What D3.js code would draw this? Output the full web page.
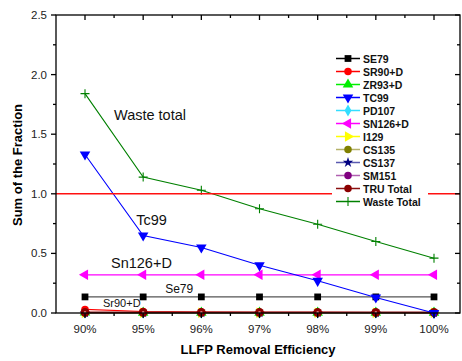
<!DOCTYPE html>
<html><head><meta charset="utf-8">
<script src="https://cdn.jsdelivr.net/npm/d3@7"></script>
<style>body{margin:0;background:#fff}svg{display:block}text{font-family:"Liberation Sans",Arial,sans-serif}</style>
</head><body><svg id="c" width="462" height="361"></svg>
<script>
const categories = ["90%","95%","96%","97%","98%","99%","100%"];
const se79  = [0.135,0.135,0.135,0.135,0.135,0.135,0.135];
const sr90  = [0.03,0.012,0.008,0.006,0.005,0.004,0.003];
const zr93  = [0.004,0.003,0.003,0.003,0.003,0.003,0.003];
const tc99  = [1.33,0.65,0.55,0.40,0.27,0.13,0.0];
const pd107 = [0.002,0.002,0.002,0.002,0.002,0.002,0.002];
const sn126 = [0.32,0.32,0.32,0.32,0.32,0.32,0.32];
const i129  = [0.003,0.002,0.002,0.002,0.002,0.002,0.002];
const cs135 = [0.003,0.003,0.003,0.003,0.003,0.003,0.003];
const cs137 = [0.001,0.001,0.001,0.001,0.001,0.001,0.001];
const sm151 = [0.002,0.002,0.002,0.002,0.002,0.002,0.002];
const truTotal = [0.005,0.005,0.005,0.005,0.005,0.005,0.005];
const wasteTotal = [1.84,1.14,1.03,0.875,0.745,0.60,0.46];
const limitValue = 1.0;
const yTicks = [0,0.5,1.0,1.5,2.0,2.5];
const yMinor = [0.25,0.75,1.25,1.75,2.25];
const legendNames = ["SE79","SR90+D","ZR93+D","TC99","PD107","SN126+D","I129","CS135","CS137","SM151","TRU Total","Waste Total"];
const annotations = [
  {t:"Waste total", c:"90%", dx:29, size:14.5},
  {t:"Tc99", c:"95%", dx:-7, size:14.5},
  {t:"Sn126+D", c:"90%", dx:26, size:14.5},
  {t:"Se79", c:"95%", dx:22, size:12},
  {t:"Sr90+D", c:"90%", dx:18, size:11}
];
const annY = [120, 225, 268, 293, 307];

const svg = d3.select("#c");
const L=56, R=460, T=15, B=313;
const x = d3.scalePoint().domain(categories).range([85,434]);
const y = d3.scaleLinear().domain([0,2.5]).range([B,T]);

const g = svg.append("g");
const line = d3.line().x((d,i)=>x(categories[i])).y(d=>y(d));
const tri = d3.symbol().type(d3.symbolTriangle).size(48)();
const sq = d3.symbol().type(d3.symbolSquare).size(46)();
const circ = d3.symbol().type(d3.symbolCircle).size(44)();
const bigCirc = d3.symbol().type(d3.symbolCircle).size(60)();
const diam = d3.symbol().type(d3.symbolDiamond).size(40)();
const star = d3.symbol().type(d3.symbolStar).size(34)();
const plus = "M-4.5,0H4.5M0,-4.5V4.5";

const series = [
  {name:"SE79", data:se79, color:"#000", line:"#555", lline:"#000", path:sq, rot:0},
  {name:"SR90+D", data:sr90, color:"#ff0000", line:"#ff0000", path:circ, rot:0},
  {name:"ZR93+D", data:zr93, color:"#00ee00", line:"#00ee00", path:tri, rot:0},
  {name:"TC99", data:tc99, color:"#0000ff", line:"#0000ff", path:tri, rot:180},
  {name:"PD107", data:pd107, color:"#33ddff", line:"#33ddff", path:diam, rot:0},
  {name:"SN126+D", data:sn126, color:"#ff00ff", line:"#ff00ff", path:tri, rot:-90},
  {name:"I129", data:i129, color:"#ffff00", line:"#ffff00", path:tri, rot:90},
  {name:"CS135", data:cs135, color:"#808000", line:"#b5b26a", path:circ, rot:0},
  {name:"CS137", data:cs137, color:"#000080", line:"#5a5ab0", path:star, rot:0},
  {name:"SM151", data:sm151, color:"#800080", line:"#b060b0", path:circ, rot:0},
  {name:"TRU Total", data:truTotal, color:"#8b0000", line:"#8b1010", path:circ, big:bigCirc, rot:0},
  {name:"Waste Total", data:wasteTotal, color:"#008000", line:"#008000", path:plus, rot:0, stroke:true}
];
const order = [8,4,6,2,7,9,1,10,0,5,3,11];
order.forEach(k=>{
  const s = series[k];
  g.append("path").attr("d",line(s.data)).attr("fill","none").attr("stroke",s.line).attr("stroke-width",s.name==="TRU Total"?1.8:1.1);
  s.data.forEach((v,i)=>{
    const m = g.append("path").attr("d",s.big||s.path)
      .attr("transform",`translate(${x(categories[i])},${y(v)}) rotate(${s.rot})`);
    if(s.stroke) m.attr("fill","none").attr("stroke",s.color).attr("stroke-width",1.1);
    else m.attr("fill",s.color);
    if(s.big) g.append("circle").attr("cx",x(categories[i])).attr("cy",y(v)).attr("r",1.3).attr("fill","#d08080");
  });
});
// red limit line
g.append("line").attr("x1",L).attr("x2",R).attr("y1",y(limitValue)).attr("y2",y(limitValue))
  .attr("stroke","#ff1010").attr("stroke-width",1.6);

// axes
const ax = svg.append("g").attr("stroke","#000").attr("stroke-width",1.3);
ax.append("rect").attr("x",L).attr("y",T).attr("width",R-L).attr("height",B-T).attr("fill","none");
const step = x.step();
const xMinor = categories.slice(0,-1).map(c=>x(c)+step/2);
categories.forEach(c=>{
  ax.append("line").attr("x1",x(c)).attr("x2",x(c)).attr("y1",B).attr("y2",B+5);
  ax.append("line").attr("x1",x(c)).attr("x2",x(c)).attr("y1",T).attr("y2",T+5);
});
xMinor.forEach(px=>{
  ax.append("line").attr("x1",px).attr("x2",px).attr("y1",B).attr("y2",B+3);
  ax.append("line").attr("x1",px).attr("x2",px).attr("y1",T).attr("y2",T+3);
});
yTicks.forEach(v=>{
  ax.append("line").attr("x1",L-5).attr("x2",L).attr("y1",y(v)).attr("y2",y(v));
  ax.append("line").attr("x1",R-5).attr("x2",R).attr("y1",y(v)).attr("y2",y(v));
});
yMinor.forEach(v=>{
  ax.append("line").attr("x1",L-3).attr("x2",L).attr("y1",y(v)).attr("y2",y(v));
  ax.append("line").attr("x1",R-3).attr("x2",R).attr("y1",y(v)).attr("y2",y(v));
});
const lab = svg.append("g").attr("fill","#222").attr("font-size","11.5px");
yTicks.forEach(v=>{
  lab.append("text").attr("x",L-9).attr("y",y(v)+4).attr("text-anchor","end").text(d3.format(".1f")(v));
});
categories.forEach(c=>{
  lab.append("text").attr("x",x(c)).attr("y",333).attr("text-anchor","middle").text(c);
});
svg.append("text").attr("x",(L+R)/2).attr("y",354).attr("text-anchor","middle")
  .attr("font-weight","bold").attr("font-size","13px").text("LLFP Removal Efficiency");
svg.append("text").attr("transform","translate(22,165) rotate(-90)").attr("text-anchor","middle")
  .attr("font-weight","bold").attr("font-size","13px").text("Sum of the Fraction");

annotations.forEach((a,i)=>{
  svg.append("text").attr("x",x(a.c)+a.dx).attr("y",annY[i]).attr("font-size",a.size+"px").attr("fill","#111").text(a.t);
});

// legend
const lg = svg.append("g");
lg.append("rect").attr("x",332).attr("y",51).attr("width",96).attr("height",158).attr("fill","#fff");
series.forEach((s,i)=>{
  const yy = 58.5 + i*13.0;
  lg.append("line").attr("x1",336).attr("x2",360).attr("y1",yy).attr("y2",yy).attr("stroke",s.lline||s.line).attr("stroke-width",1.5);
  const m = lg.append("path").attr("d",s.path).attr("transform",`translate(348,${yy}) rotate(${s.rot})`);
  if(s.stroke) m.attr("fill","none").attr("stroke",s.color).attr("stroke-width",1.1);
  else m.attr("fill",s.color);
  lg.append("text").attr("x",363).attr("y",yy+4).attr("font-weight","bold").attr("font-size","10.5px").attr("fill","#111").text(legendNames[i]);
});
</script></body></html>
